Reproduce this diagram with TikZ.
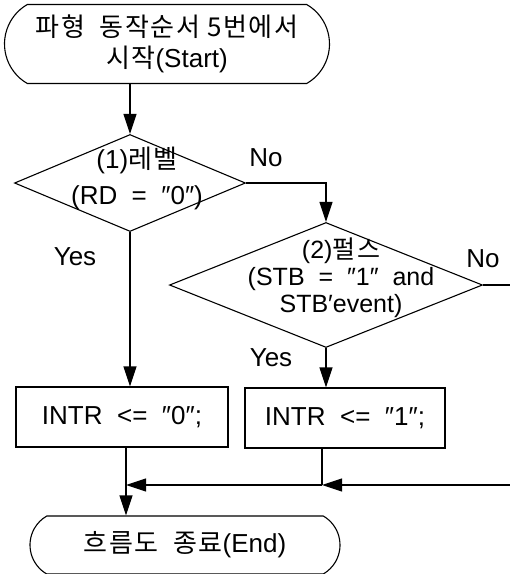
\documentclass[tikz,border=0pt]{standalone}
\usepackage{fontspec}
\setmainfont{Liberation Sans}
\newfontfamily\kr[LetterSpace=6]{Noto Sans CJK KR}
\usetikzlibrary{positioning,arrows.meta,shapes.geometric,shapes.misc}

\begin{document}
\begin{tikzpicture}[
    x=1pt, y=-1pt,
    font=\fontsize{26}{31}\selectfont,
    term/.style={draw, line width=1.1pt, rounded rectangle,
                 rounded rectangle arc length=120, inner sep=0pt, align=center},
    cond/.style={draw, line width=1.1pt, diamond, inner sep=0pt},
    act/.style={draw, line width=1.1pt, inner sep=0pt},
    flow/.style={line width=1.1pt},
    arr/.style={flow, -{Triangle[length=20pt, width=13pt]}},
    lbl/.style={inner sep=0pt, align=center},
  ]
  \useasboundingbox (0,0) rectangle (510,574);

  \node[term, minimum width=325pt, minimum height=79pt] (start) at (167,44)
    {{\kr 파형\ \ 동작순서 5번에서}\\{\kr 시작}(Start)};
  \node[cond, minimum width=231pt, minimum height=97pt] (d1) at (130,183) {};
  \node[lbl] (d1txt) at (137,178) {(1){\kr 레벨}\\[5pt](RD\ \ =\ \ ″0″)};
  \node[lbl, font=\fontsize{25}{31}\selectfont] (d2txt) at (341,278)
    {(2){\kr 펄스}\\[-4pt](STB\ \ =\ \ ″1″\ \ and\\[-4pt]STB′event)};
  \node[cond, minimum width=313pt, minimum height=125pt] (d2) at (326,285) {};
  \node[act, minimum width=212pt, minimum height=60pt] (act0) at (122,417) {INTR\ \ <=\ \ ″0″;};
  \node[act, minimum width=200pt, minimum height=60pt] (act1) at (345,418) {INTR\ \ <=\ \ ″1″;};
  \node[term, minimum width=310pt, minimum height=58pt] (stop) at (185,545)
    {{\kr 흐름도\ \ 종료}(End)};

  \node[lbl] (no1) at (266,158) {No};
  \node[lbl] (no2) at (483,259) {No};
  \node[lbl] (yes1) at (75,257) {Yes};
  \node[lbl] (yes2) at (271,358) {Yes};

  \coordinate (outR) at (510,285);
  \coordinate (inR) at (510,485);
  \coordinate (j1) at (322,485);
  \coordinate (j0) at (126,485);

  % main path down the left side
  \draw[arr] (d1.north |- start.south) -- (d1.north);
  \draw[arr] (d1.south) -- (d1.south |- act0.north);
  \draw[arr] (act0.south -| j0) -- (j0 |- stop.north);

  % No branch of (1) into (2)
  \draw[arr] (d1.east) -| (d2.north);
  \draw[arr] (d2.south) -- (d2.south |- act1.north);
  \draw[flow] (d2.east) -- (outR);

  % joining back
  \draw[flow] (act1.south -| j1) -- (j1);
  \draw[arr] (inR) -- (j1);
  \draw[arr] (j1) -- (j0);
\end{tikzpicture}
\end{document}
